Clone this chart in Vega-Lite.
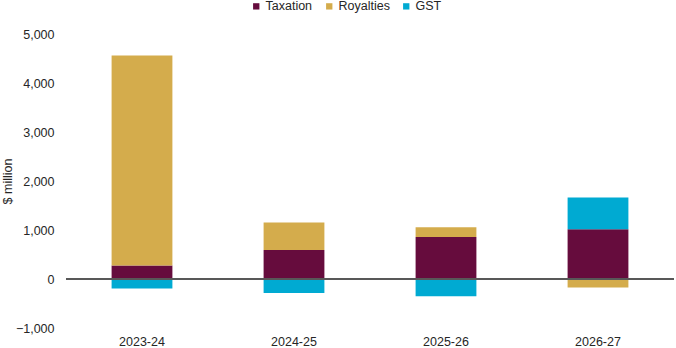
{
  "$schema": "https://vega.github.io/schema/vega-lite/v6.json",
  "autosize": {"type": "none"},
  "width": 608,
  "height": 294,
  "padding": {"left": 66, "top": 34, "right": 2, "bottom": 20},
  "background": "white",
  "config": {
    "view": {"stroke": null},
    "font": "Liberation Sans",
    "text": {"font": "Liberation Sans"}
  },
  "data": {
    "values": [
      {"year": "2023-24", "category": "Taxation", "value": 273, "ord": 1},
      {"year": "2023-24", "category": "Royalties", "value": 4286, "ord": 2},
      {"year": "2023-24", "category": "GST", "value": -196, "ord": 3},
      {"year": "2024-25", "category": "Taxation", "value": 592, "ord": 1},
      {"year": "2024-25", "category": "Royalties", "value": 559, "ord": 2},
      {"year": "2024-25", "category": "GST", "value": -286, "ord": 3},
      {"year": "2025-26", "category": "Taxation", "value": 857, "ord": 1},
      {"year": "2025-26", "category": "Royalties", "value": 198, "ord": 2},
      {"year": "2025-26", "category": "GST", "value": -353, "ord": 3},
      {"year": "2026-27", "category": "Taxation", "value": 1014, "ord": 1},
      {"year": "2026-27", "category": "Royalties", "value": -176, "ord": 2},
      {"year": "2026-27", "category": "GST", "value": 647, "ord": 3}
    ]
  },
  "layer": [
    {
      "mark": {"type": "bar"},
      "encoding": {
        "x": {
          "field": "year",
          "type": "nominal",
          "sort": null,
          "scale": {"paddingInner": 0.6, "paddingOuter": 0.3},
          "axis": {
            "title": null,
            "labelAngle": 0,
            "ticks": false,
            "domain": false,
            "grid": false,
            "labelPadding": 7,
            "labelFontSize": 12.5,
            "labelColor": "#262626",
            "labelFont": "Liberation Sans"
          }
        },
        "y": {
          "field": "value",
          "type": "quantitative",
          "stack": "zero",
          "scale": {"domain": [-1000, 5000], "nice": false, "zero": true},
          "axis": {
            "title": "$ million",
            "values": [-1000, 0, 1000, 2000, 3000, 4000, 5000],
            "format": ",.0f",
            "grid": false,
            "ticks": false,
            "domain": false,
            "labelPadding": 12,
            "labelFontSize": 12.5,
            "labelColor": "#262626",
            "labelFont": "Liberation Sans",
            "titleFont": "Liberation Sans",
            "titleFontSize": 12.5,
            "titleFontWeight": "normal",
            "titleColor": "#262626",
            "titleX": -59,
            "titleY": 147,
            "titleAngle": -90,
            "titleAlign": "center",
            "titleBaseline": "middle"
          }
        },
        "color": {
          "field": "category",
          "type": "nominal",
          "scale": {
            "domain": ["Taxation", "Royalties", "GST"],
            "range": ["#660C3D", "#D4AC4C", "#00AAD2"]
          },
          "legend": {
            "title": null,
            "orient": "none",
            "direction": "horizontal",
            "legendX": 184,
            "legendY": -34,
            "padding": 0,
            "symbolType": "square",
            "symbolSize": 40,
            "symbolStrokeWidth": 0,
            "labelOffset": 3,
            "columnPadding": 10,
            "labelFontSize": 12.5,
            "labelFont": "Liberation Sans",
            "labelColor": "#262626"
          }
        },
        "order": {"field": "ord", "type": "quantitative"}
      }
    },
    {
      "mark": {"type": "rule", "color": "#595959", "strokeWidth": 1.5},
      "encoding": {"y": {"datum": 0, "type": "quantitative"}}
    }
  ]
}
